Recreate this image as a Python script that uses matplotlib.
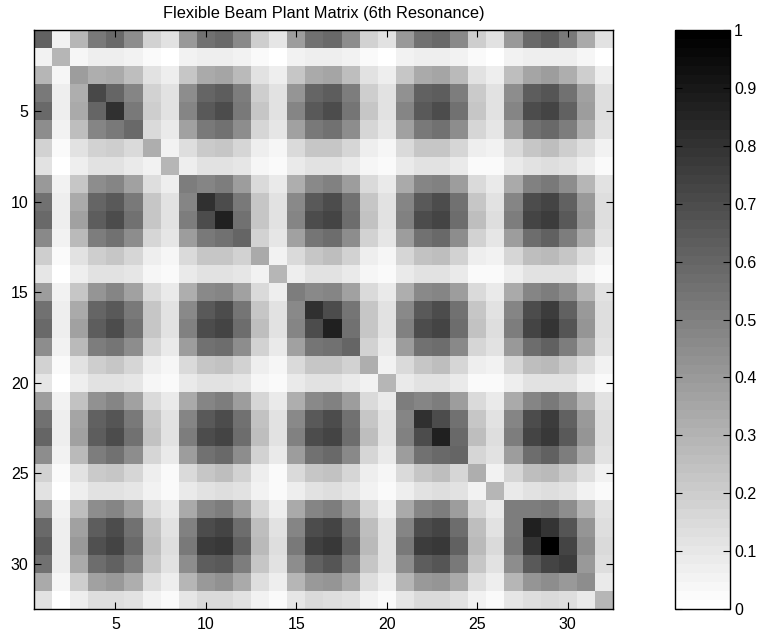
import matplotlib
matplotlib.use("Agg")
import matplotlib.pyplot as plt
import numpy as np

plt.rcParams['font.family'] = ['Liberation Sans', 'DejaVu Sans']

title = "Flexible Beam Plant Matrix (6th Resonance)"
axis_ticks = [5, 10, 15, 20, 25, 30]
cbar_ticks = [0, 0.1, 0.2, 0.3, 0.4, 0.5, 0.6, 0.7, 0.8, 0.9, 1]
cbar_labels = ["0", "0.1", "0.2", "0.3", "0.4", "0.5", "0.6", "0.7", "0.8", "0.9", "1"]

r01 = [0.62,0.06,0.29,0.53,0.59,0.45,0.18,0.11,0.40,0.56,0.59,0.46,0.20,0.10,0.39,0.55,0.59,0.45,0.18,0.11,0.40,0.56,0.59,0.46,0.20,0.12,0.40,0.58,0.63,0.53,0.34,0.12]
r02 = [0.06,0.29,0.04,0.07,0.07,0.05,0.03,0.00,0.06,0.07,0.07,0.06,0.03,0.00,0.05,0.07,0.07,0.05,0.03,0.00,0.06,0.07,0.07,0.06,0.03,0.00,0.05,0.07,0.07,0.07,0.04,0.00]
r03 = [0.29,0.04,0.38,0.32,0.33,0.25,0.11,0.07,0.23,0.33,0.35,0.27,0.12,0.07,0.23,0.33,0.35,0.26,0.11,0.07,0.23,0.34,0.35,0.28,0.11,0.07,0.25,0.35,0.38,0.32,0.20,0.07]
r04 = [0.53,0.07,0.32,0.71,0.60,0.47,0.18,0.11,0.44,0.60,0.63,0.50,0.20,0.12,0.42,0.60,0.64,0.50,0.20,0.11,0.43,0.62,0.64,0.51,0.21,0.11,0.44,0.63,0.67,0.56,0.36,0.14]
r05 = [0.58,0.07,0.34,0.60,0.80,0.52,0.20,0.11,0.47,0.65,0.69,0.53,0.22,0.12,0.47,0.65,0.69,0.54,0.22,0.11,0.47,0.65,0.69,0.55,0.23,0.12,0.47,0.69,0.73,0.62,0.39,0.14]
r06 = [0.45,0.05,0.25,0.47,0.52,0.58,0.15,0.09,0.37,0.52,0.55,0.44,0.17,0.10,0.36,0.52,0.55,0.44,0.17,0.10,0.37,0.53,0.56,0.44,0.17,0.10,0.37,0.55,0.59,0.50,0.32,0.12]
r07 = [0.18,0.03,0.11,0.18,0.20,0.15,0.32,0.05,0.14,0.21,0.22,0.16,0.07,0.04,0.15,0.22,0.22,0.16,0.07,0.04,0.15,0.22,0.23,0.16,0.07,0.05,0.15,0.23,0.25,0.20,0.14,0.06]
r08 = [0.11,0.00,0.07,0.11,0.11,0.09,0.05,0.29,0.07,0.12,0.12,0.10,0.04,0.03,0.08,0.11,0.11,0.09,0.04,0.03,0.08,0.12,0.12,0.09,0.03,0.03,0.08,0.12,0.13,0.11,0.07,0.03]
r09 = [0.40,0.06,0.23,0.44,0.47,0.37,0.14,0.07,0.50,0.47,0.50,0.39,0.15,0.08,0.32,0.46,0.49,0.39,0.15,0.08,0.33,0.47,0.49,0.39,0.15,0.08,0.33,0.49,0.53,0.44,0.29,0.11]
r10 = [0.56,0.07,0.34,0.60,0.65,0.53,0.22,0.12,0.47,0.81,0.69,0.53,0.22,0.12,0.46,0.65,0.69,0.55,0.23,0.12,0.47,0.65,0.69,0.55,0.23,0.12,0.47,0.69,0.73,0.62,0.40,0.14]
r11 = [0.59,0.07,0.36,0.63,0.69,0.55,0.23,0.12,0.50,0.69,0.87,0.55,0.23,0.12,0.48,0.69,0.73,0.57,0.24,0.12,0.49,0.69,0.72,0.57,0.25,0.13,0.50,0.72,0.76,0.65,0.42,0.14]
r12 = [0.46,0.06,0.28,0.50,0.55,0.44,0.16,0.10,0.39,0.53,0.55,0.60,0.18,0.10,0.37,0.54,0.57,0.45,0.18,0.10,0.38,0.55,0.58,0.45,0.18,0.10,0.39,0.57,0.61,0.51,0.33,0.12]
r13 = [0.20,0.03,0.12,0.20,0.22,0.17,0.07,0.04,0.15,0.22,0.23,0.18,0.33,0.05,0.15,0.23,0.25,0.18,0.07,0.04,0.16,0.24,0.25,0.18,0.07,0.05,0.16,0.25,0.28,0.22,0.14,0.06]
r14 = [0.10,0.00,0.07,0.11,0.11,0.10,0.04,0.03,0.08,0.12,0.12,0.10,0.05,0.29,0.07,0.11,0.11,0.09,0.04,0.03,0.08,0.11,0.11,0.09,0.03,0.03,0.07,0.11,0.12,0.11,0.06,0.03]
r15 = [0.39,0.05,0.23,0.42,0.47,0.36,0.15,0.08,0.32,0.46,0.48,0.37,0.15,0.07,0.50,0.46,0.48,0.37,0.15,0.08,0.32,0.46,0.48,0.38,0.15,0.08,0.33,0.47,0.51,0.44,0.29,0.11]
r16 = [0.55,0.07,0.33,0.60,0.65,0.52,0.22,0.11,0.46,0.65,0.69,0.54,0.23,0.11,0.46,0.81,0.69,0.54,0.22,0.11,0.46,0.65,0.69,0.55,0.23,0.12,0.47,0.69,0.75,0.62,0.40,0.14]
r17 = [0.59,0.07,0.36,0.64,0.69,0.55,0.23,0.12,0.49,0.69,0.73,0.57,0.25,0.12,0.48,0.69,0.87,0.56,0.23,0.12,0.49,0.69,0.72,0.57,0.24,0.14,0.50,0.73,0.79,0.66,0.42,0.14]
r18 = [0.45,0.05,0.27,0.50,0.54,0.44,0.16,0.09,0.39,0.55,0.57,0.45,0.18,0.09,0.37,0.54,0.56,0.60,0.18,0.09,0.38,0.55,0.57,0.46,0.17,0.11,0.40,0.57,0.61,0.51,0.33,0.11]
r19 = [0.18,0.03,0.11,0.20,0.22,0.17,0.07,0.04,0.15,0.23,0.24,0.18,0.07,0.04,0.15,0.22,0.23,0.18,0.32,0.05,0.15,0.22,0.25,0.17,0.07,0.06,0.16,0.25,0.28,0.21,0.14,0.05]
r20 = [0.10,0.00,0.07,0.11,0.11,0.10,0.04,0.03,0.08,0.12,0.12,0.10,0.04,0.03,0.08,0.12,0.12,0.09,0.05,0.29,0.08,0.12,0.12,0.09,0.03,0.03,0.07,0.11,0.12,0.11,0.06,0.03]
r21 = [0.39,0.05,0.24,0.43,0.47,0.37,0.15,0.08,0.33,0.47,0.50,0.38,0.16,0.08,0.32,0.46,0.49,0.38,0.15,0.08,0.50,0.47,0.50,0.38,0.15,0.08,0.33,0.47,0.52,0.44,0.29,0.11]
r22 = [0.56,0.07,0.35,0.62,0.66,0.53,0.22,0.12,0.47,0.65,0.69,0.55,0.24,0.12,0.46,0.65,0.69,0.55,0.23,0.12,0.47,0.81,0.70,0.55,0.23,0.12,0.47,0.69,0.75,0.62,0.40,0.14]
r23 = [0.60,0.07,0.36,0.64,0.69,0.56,0.24,0.12,0.50,0.69,0.72,0.57,0.25,0.12,0.49,0.69,0.72,0.57,0.25,0.12,0.49,0.70,0.87,0.58,0.25,0.14,0.51,0.73,0.77,0.65,0.42,0.14]
r24 = [0.45,0.05,0.28,0.51,0.55,0.44,0.16,0.09,0.39,0.55,0.58,0.45,0.18,0.09,0.38,0.55,0.58,0.46,0.17,0.09,0.38,0.55,0.58,0.60,0.16,0.11,0.39,0.57,0.62,0.51,0.33,0.11]
r25 = [0.18,0.03,0.11,0.21,0.23,0.17,0.07,0.03,0.15,0.23,0.25,0.18,0.07,0.03,0.15,0.23,0.24,0.17,0.07,0.04,0.15,0.22,0.25,0.16,0.32,0.05,0.16,0.25,0.28,0.21,0.13,0.05]
r26 = [0.11,0.00,0.07,0.11,0.12,0.10,0.05,0.03,0.08,0.12,0.14,0.11,0.05,0.03,0.07,0.12,0.14,0.10,0.05,0.03,0.07,0.12,0.14,0.11,0.05,0.29,0.08,0.12,0.14,0.11,0.06,0.03]
r27 = [0.40,0.05,0.25,0.44,0.48,0.37,0.15,0.08,0.33,0.47,0.50,0.39,0.16,0.07,0.33,0.47,0.50,0.39,0.16,0.07,0.33,0.47,0.51,0.39,0.16,0.08,0.50,0.50,0.53,0.45,0.29,0.11]
r28 = [0.58,0.07,0.36,0.64,0.69,0.55,0.24,0.12,0.49,0.70,0.72,0.57,0.25,0.11,0.48,0.69,0.73,0.57,0.25,0.11,0.47,0.69,0.73,0.57,0.25,0.12,0.50,0.87,0.79,0.66,0.42,0.14]
r29 = [0.64,0.07,0.40,0.68,0.73,0.59,0.26,0.13,0.53,0.75,0.77,0.61,0.28,0.13,0.52,0.74,0.78,0.62,0.27,0.12,0.52,0.75,0.78,0.61,0.27,0.15,0.53,0.79,1.00,0.72,0.45,0.15]
r30 = [0.55,0.07,0.33,0.57,0.62,0.51,0.22,0.11,0.45,0.63,0.65,0.51,0.22,0.11,0.45,0.62,0.66,0.52,0.22,0.11,0.45,0.63,0.66,0.52,0.22,0.11,0.45,0.65,0.72,0.76,0.40,0.13]
r31 = [0.33,0.04,0.20,0.36,0.40,0.32,0.14,0.07,0.29,0.40,0.43,0.33,0.14,0.07,0.29,0.40,0.42,0.33,0.14,0.07,0.29,0.40,0.42,0.33,0.14,0.07,0.29,0.42,0.45,0.40,0.45,0.09]
r32 = [0.11,0.00,0.07,0.13,0.14,0.11,0.05,0.03,0.10,0.15,0.15,0.11,0.05,0.03,0.10,0.15,0.14,0.11,0.05,0.03,0.10,0.15,0.15,0.12,0.05,0.03,0.10,0.14,0.15,0.14,0.08,0.29]

matrix = np.array([r01, r02, r03, r04, r05, r06, r07, r08, r09, r10, r11, r12, r13, r14, r15, r16,
                   r17, r18, r19, r20, r21, r22, r23, r24, r25, r26, r27, r28, r29, r30, r31, r32])
n = matrix.shape[0]

W, H = 762, 636
fig = plt.figure(figsize=(W / 100, H / 100), dpi=100)
ax = fig.add_axes([34 / W, 1 - 609 / H, 579 / W, 579 / H])
cmap = plt.get_cmap('gray_r', 64)
im = ax.imshow(matrix, cmap=cmap, vmin=0, vmax=1, interpolation='nearest',
               extent=[0.5, n + 0.5, n + 0.5, 0.5], aspect='auto')
ax.set_xticks(axis_ticks)
ax.set_yticks(axis_ticks)
ax.tick_params(direction='in', top=True, right=True, length=5, width=0.8, labelsize=11.5)
ax.tick_params(axis='x', pad=6)
ax.tick_params(axis='y', pad=4)
for s in ax.spines.values():
    s.set_linewidth(1.0)
ax.set_title(title, fontsize=11.8, pad=8.5)

cax = fig.add_axes([675 / W, 1 - 609 / H, 55 / W, 579 / H])
cb = fig.colorbar(im, cax=cax, ticks=cbar_ticks)
cb.ax.set_yticklabels(cbar_labels)
cb.ax.tick_params(direction='in', left=True, right=True, length=5, width=0.8,
                  labelsize=11.5, pad=3)
cb.outline.set_linewidth(1.0)

fig.savefig("out.png", dpi=100)
